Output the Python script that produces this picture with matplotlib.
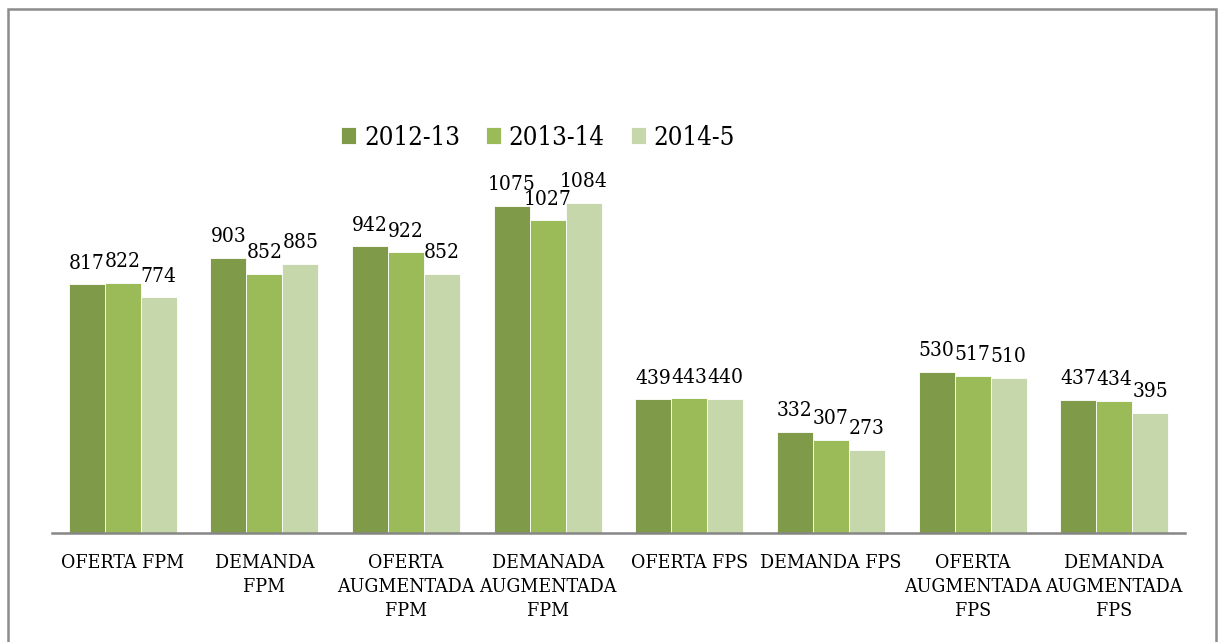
import matplotlib
matplotlib.use("Agg")
import matplotlib.pyplot as plt
from matplotlib.patches import Rectangle
import numpy as np

categories = ["OFERTA FPM", "DEMANDA\nFPM", "OFERTA\nAUGMENTADA\nFPM", "DEMANADA\nAUGMENTADA\nFPM",
              "OFERTA FPS", "DEMANDA FPS", "OFERTA\nAUGMENTADA\nFPS", "DEMANDA\nAUGMENTADA\nFPS"]
series_names = ["2012-13", "2013-14", "2014-5"]
v2012 = [817, 903, 942, 1075, 439, 332, 530, 437]
v2013 = [822, 852, 922, 1027, 443, 307, 517, 434]
v2014 = [774, 885, 852, 1084, 440, 273, 510, 395]
colors = ["#7F9A48", "#9BBB59", "#C6D7AC"]

plt.rcParams['font.family'] = ['DejaVu Serif']
plt.rcParams['font.stretch'] = 'condensed'

W, H = 1220, 642
fig = plt.figure(figsize=(W/100, H/100), dpi=100)
fig.patches.append(Rectangle((7.5/W, -0.05), (1216-7.5)/W, 1.05 - 8.5/H, transform=fig.transFigure,
                             fill=False, edgecolor="#8C8C8C", linewidth=1.8))

ax = fig.add_axes([52/W, 1-533/H, (1185-52)/W, (533-100)/H])
x = np.arange(len(categories))
bw = 0.254
for i, (vals, c, name) in enumerate(zip([v2012, v2013, v2014], colors, series_names)):
    pos = x + (i-1)*bw
    bars = ax.bar(pos, vals, bw, color=c, label=name, edgecolor="white", linewidth=0.6)
    for p, v in zip(pos, vals):
        ax.text(p, v + 38, str(v), ha="center", va="bottom", fontsize=15)

ax.set_xlim(-0.5, len(categories)-0.5)
ax.set_ylim(0, 1422)
ax.set_xticks(x)
ax.set_xticklabels(categories, fontsize=14, linespacing=1.45)
ax.tick_params(axis="x", length=0, pad=15)
ax.set_yticks([])
for s in ["top", "right", "left"]:
    ax.spines[s].set_visible(False)
ax.spines["bottom"].set_color("#868686")
ax.spines["bottom"].set_linewidth(1.8)

leg = fig.legend(loc="center", bbox_to_anchor=(538/W, 1-137/H), ncol=3, frameon=False,
                 fontsize=18.5, handlelength=0.6, handleheight=0.6, handletextpad=0.3, columnspacing=1.0)

fig.savefig("out.png", dpi=100)
